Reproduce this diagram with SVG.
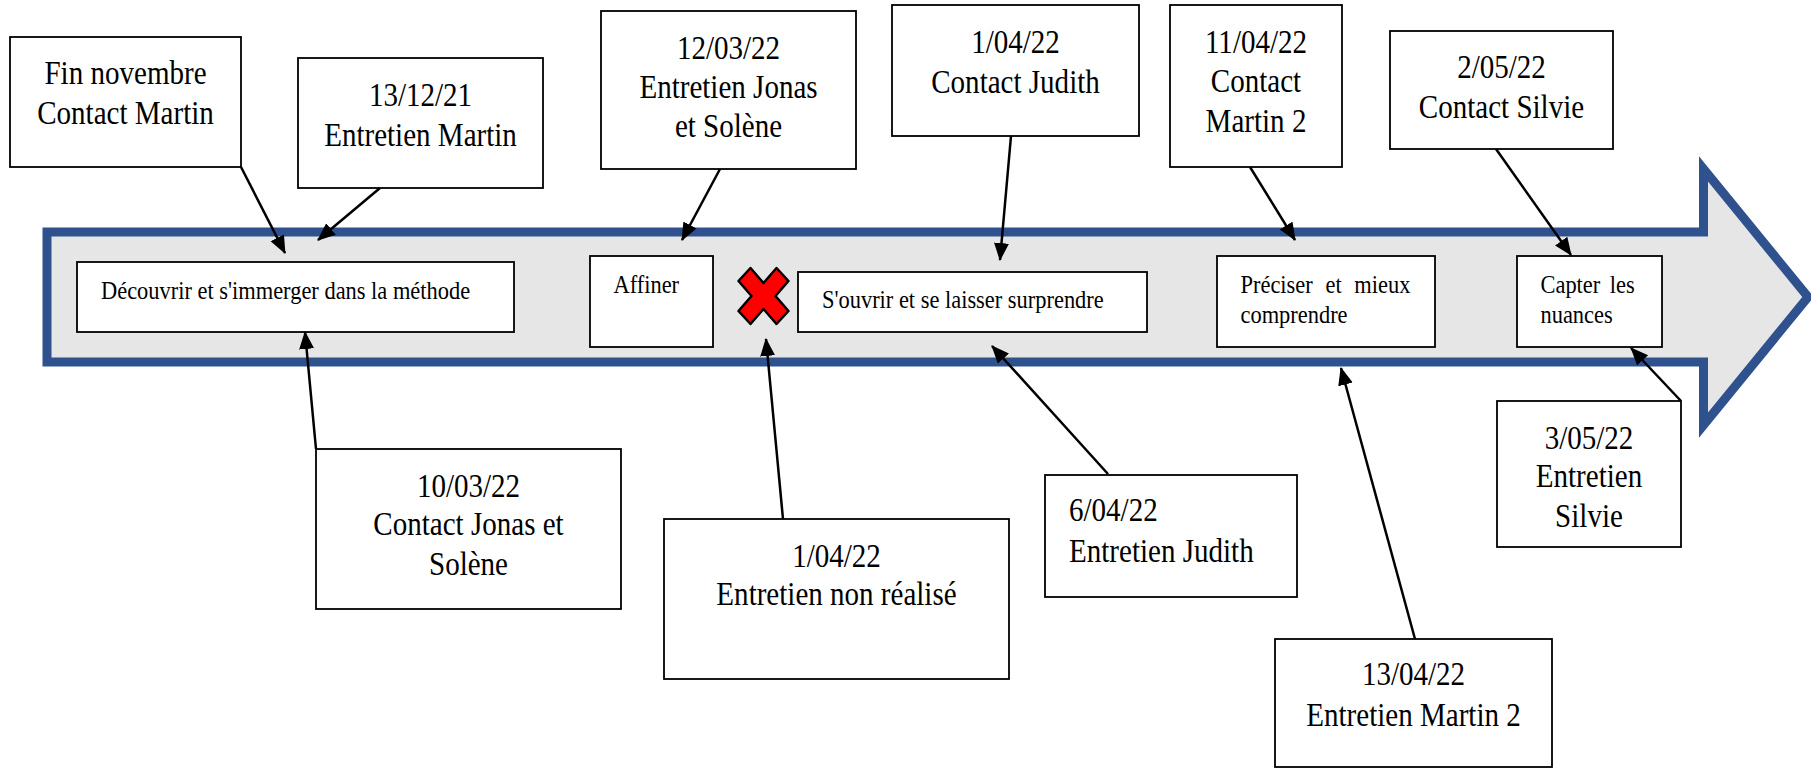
<svg xmlns="http://www.w3.org/2000/svg" width="1811" height="769" viewBox="0 0 1811 769">
  <style>
    .box { fill: #ffffff; stroke: #000000; stroke-width: 1.8; }
    .lbl { font-family: "Liberation Serif", "Times New Roman", serif; font-size: 33px; fill: #000000; }
    .step { font-family: "Liberation Serif", "Times New Roman", serif; font-size: 25.5px; fill: #000000; }
    .mid { text-anchor: middle; }
    .conn line { stroke: #000000; stroke-width: 2.5; fill: none; marker-end: url(#ah); }
  </style>
  <defs>
    <marker id="ah" markerUnits="userSpaceOnUse" markerWidth="20" markerHeight="16" refX="17" refY="7.5" orient="auto">
      <path d="M0,0 L18,7.5 L0,15 Z" fill="#000000"/>
    </marker>
  </defs>

  <rect width="1811" height="769" fill="#ffffff"/>

  <!-- timeline arrow -->
  <g id="timeline">
    <path d="M47,232 L1703.5,232 L1703.5,169 L1808,297 L1703.5,425 L1703.5,362 L47,362 Z" fill="#E7E6E6" stroke="#2F528F" stroke-width="9" stroke-linejoin="miter" stroke-miterlimit="10"/>
  </g>

  <!-- phases along the timeline -->
  <g id="phase-decouvrir">
    <rect class="box" x="77" y="262" width="437" height="70"/>
    <text class="step" transform="translate(101 0) scale(0.88 1)"><tspan x="0" y="299">Découvrir et s'immerger dans la méthode</tspan></text>
  </g>
  <g id="phase-affiner">
    <rect class="box" x="590" y="256" width="123" height="91"/>
    <text class="step" transform="translate(613.5 0) scale(0.88 1)"><tspan x="0" y="293">Affiner</tspan></text>
  </g>
  <g id="cancelled">
    <polygon transform="translate(763.5 296)" points="-25,-15 -13,-28 0,-13 13,-28 25,-15 12,0 25,15 13,28 0,13 -13,28 -25,15 -12,0" fill="#FF0000" stroke="#000000" stroke-width="2.5" stroke-linejoin="round"/>
  </g>
  <g id="phase-ouvrir">
    <rect class="box" x="798" y="272" width="349" height="60"/>
    <text class="step" transform="translate(822 0) scale(0.88 1)"><tspan x="0" y="308">S'ouvrir et se laisser surprendre</tspan></text>
  </g>
  <g id="phase-preciser">
    <rect class="box" x="1217" y="256" width="218" height="91"/>
    <text class="step" transform="translate(1240.5 0) scale(0.88 1)"><tspan x="0" y="293" word-spacing="8.1">Préciser et mieux</tspan><tspan x="0" y="323">comprendre</tspan></text>
  </g>
  <g id="phase-capter">
    <rect class="box" x="1517" y="256" width="145" height="91"/>
    <text class="step" transform="translate(1540.5 0) scale(0.88 1)"><tspan x="0" y="293" word-spacing="4.5">Capter les</tspan><tspan x="0" y="323">nuances</tspan></text>
  </g>

  <!-- connectors from events to the timeline -->
  <g id="connectors" class="conn">
    <line x1="241" y1="167" x2="285" y2="253"/>
    <line x1="380" y1="188" x2="318" y2="240"/>
    <line x1="316" y1="449" x2="305" y2="332"/>
    <line x1="720" y1="169" x2="682" y2="240"/>
    <line x1="1011" y1="136" x2="1000" y2="260"/>
    <line x1="783" y1="519" x2="766" y2="339"/>
    <line x1="1108" y1="474" x2="992" y2="346"/>
    <line x1="1250" y1="167" x2="1295" y2="240"/>
    <line x1="1415" y1="639" x2="1341" y2="368"/>
    <line x1="1496" y1="149" x2="1571" y2="255"/>
    <line x1="1681" y1="401" x2="1631" y2="348"/>
  </g>

  <!-- events above the timeline -->
  <g id="ev-fin-novembre">
    <rect class="box" x="10" y="37" width="231" height="130"/>
    <text class="lbl mid" transform="translate(125.5 0) scale(0.88 1)"><tspan x="0" y="84">Fin novembre</tspan><tspan x="0" y="124.5">Contact Martin</tspan></text>
  </g>
  <g id="ev-131221">
    <rect class="box" x="298" y="58" width="245" height="130"/>
    <text class="lbl mid" transform="translate(420.5 0) scale(0.88 1)"><tspan x="0" y="106">13/12/21</tspan><tspan x="0" y="146">Entretien Martin</tspan></text>
  </g>
  <g id="ev-120322">
    <rect class="box" x="601" y="11" width="255" height="158"/>
    <text class="lbl mid" transform="translate(728.5 0) scale(0.88 1)"><tspan x="0" y="59.5">12/03/22</tspan><tspan x="0" y="98">Entretien Jonas</tspan><tspan x="0" y="137">et Solène</tspan></text>
  </g>
  <g id="ev-010422-contact">
    <rect class="box" x="892" y="5" width="247" height="131"/>
    <text class="lbl mid" transform="translate(1015.5 0) scale(0.88 1)"><tspan x="0" y="53.5">1/04/22</tspan><tspan x="0" y="93.5">Contact Judith</tspan></text>
  </g>
  <g id="ev-110422">
    <rect class="box" x="1170" y="5" width="172" height="162"/>
    <text class="lbl mid" transform="translate(1256 0) scale(0.88 1)"><tspan x="0" y="53.5">11/04/22</tspan><tspan x="0" y="92">Contact</tspan><tspan x="0" y="132">Martin 2</tspan></text>
  </g>
  <g id="ev-020522">
    <rect class="box" x="1390" y="31" width="223" height="118"/>
    <text class="lbl mid" transform="translate(1501.5 0) scale(0.88 1)"><tspan x="0" y="78.5">2/05/22</tspan><tspan x="0" y="118.5">Contact Silvie</tspan></text>
  </g>

  <!-- events below the timeline -->
  <g id="ev-100322">
    <rect class="box" x="316" y="449" width="305" height="160"/>
    <text class="lbl mid" transform="translate(468.5 0) scale(0.88 1)"><tspan x="0" y="497">10/03/22</tspan><tspan x="0" y="535.5">Contact Jonas et</tspan><tspan x="0" y="575">Solène</tspan></text>
  </g>
  <g id="ev-010422-entretien">
    <rect class="box" x="664" y="519" width="345" height="160"/>
    <text class="lbl mid" transform="translate(836.5 0) scale(0.88 1)"><tspan x="0" y="567">1/04/22</tspan><tspan x="0" y="605.5">Entretien non réalisé</tspan></text>
  </g>
  <g id="ev-060422">
    <rect class="box" x="1045" y="475" width="252" height="122"/>
    <text class="lbl" transform="translate(1069 0) scale(0.88 1)"><tspan x="0" y="521">6/04/22</tspan><tspan x="0" y="562.5">Entretien Judith</tspan></text>
  </g>
  <g id="ev-130422">
    <rect class="box" x="1275" y="639" width="277" height="128"/>
    <text class="lbl mid" transform="translate(1413.5 0) scale(0.88 1)"><tspan x="0" y="685">13/04/22</tspan><tspan x="0" y="726.5">Entretien Martin 2</tspan></text>
  </g>
  <g id="ev-030522">
    <rect class="box" x="1497" y="401" width="184" height="146"/>
    <text class="lbl mid" transform="translate(1589 0) scale(0.88 1)"><tspan x="0" y="449">3/05/22</tspan><tspan x="0" y="487.5">Entretien</tspan><tspan x="0" y="527">Silvie</tspan></text>
  </g>
</svg>
